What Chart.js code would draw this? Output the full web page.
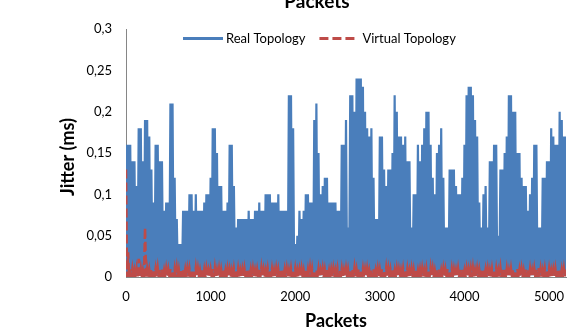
<!DOCTYPE html>
<html>
<head>
<meta charset="utf-8">
<script src="https://cdn.jsdelivr.net/npm/chart.js@4/dist/chart.umd.min.js"></script>
<style>
  html, body { margin: 0; padding: 0; background: #fff; overflow: hidden; }
  canvas { display: block; }
</style>
</head>
<body>
<canvas id="chart" width="578" height="331"></canvas>
<script>
// jitter per block of 25 packets (peak value seen in each block)
const blockSize = 25;

const realPeaks = [
    0.16, 0.16, 0.16, 0.14, 0.14, 0.11, 0.18, 0.18, 0.14, 0.19,
    0.19, 0.17, 0.13, 0.09, 0.16, 0.16, 0.14, 0.14, 0.08, 0.09,
    0.09, 0.21, 0.21, 0.12, 0.07, 0.04, 0.04, 0.08, 0.08, 0.08,
    0.10, 0.10, 0.08, 0.10, 0.08, 0.08, 0.08, 0.09, 0.10, 0.10,
    0.12, 0.18, 0.18, 0.15, 0.11, 0.11, 0.08, 0.08, 0.09, 0.16,
    0.16, 0.11, 0.06, 0.07, 0.07, 0.07, 0.07, 0.07, 0.08, 0.07,
    0.07, 0.08, 0.08, 0.09, 0.08, 0.08, 0.10, 0.10, 0.10, 0.09,
    0.09, 0.09, 0.10, 0.08, 0.08, 0.08, 0.08, 0.22, 0.22, 0.18,
    0.04, 0.05, 0.08, 0.07, 0.08, 0.10, 0.10, 0.09, 0.09, 0.19,
    0.21, 0.15, 0.10, 0.11, 0.12, 0.12, 0.09, 0.09, 0.09, 0.09,
    0.08, 0.08, 0.16, 0.16, 0.19, 0.06, 0.22, 0.22, 0.20, 0.24,
    0.24, 0.24, 0.23, 0.20, 0.18, 0.17, 0.18, 0.12, 0.07, 0.07,
    0.17, 0.17, 0.13, 0.11, 0.13, 0.13, 0.15, 0.22, 0.20, 0.17,
    0.17, 0.16, 0.17, 0.14, 0.14, 0.06, 0.10, 0.10, 0.16, 0.14,
    0.16, 0.18, 0.20, 0.20, 0.16, 0.12, 0.10, 0.15, 0.16, 0.18,
    0.12, 0.06, 0.06, 0.13, 0.13, 0.13, 0.11, 0.10, 0.10, 0.12,
    0.16, 0.22, 0.23, 0.23, 0.22, 0.19, 0.17, 0.09, 0.06, 0.10,
    0.11, 0.06, 0.14, 0.14, 0.16, 0.16, 0.05, 0.13, 0.13, 0.15,
    0.17, 0.22, 0.22, 0.20, 0.20, 0.15, 0.15, 0.12, 0.11, 0.11,
    0.08, 0.10, 0.12, 0.16, 0.16, 0.06, 0.06, 0.12, 0.12, 0.14,
    0.14, 0.18, 0.17, 0.16, 0.16, 0.20, 0.19, 0.17, 0.17
];
const realFloor = 0.002;

const virtualPeaks = [
    0.13, 0.03, 0.01, 0.01, 0.008, 0.01, 0.022, 0.01, 0.008, 0.06,
    0.01, 0.009, 0.01, 0.008, 0.01, 0.011, 0.009, 0.01, 0.008, 0.01,
    0.009, 0.01, 0.008, 0.01, 0.011, 0.009, 0.008, 0.01, 0.009, 0.01,
    0.01, 0.008, 0.009, 0.011, 0.01, 0.008, 0.01, 0.009, 0.01, 0.008,
    0.009, 0.01, 0.011, 0.008, 0.01, 0.009, 0.01, 0.008, 0.01, 0.009,
    0.008, 0.01, 0.009, 0.01, 0.008, 0.009, 0.01, 0.008, 0.01, 0.009,
    0.01, 0.008, 0.009, 0.01, 0.011, 0.009, 0.008, 0.01, 0.009, 0.01,
    0.008, 0.01, 0.009, 0.008, 0.01, 0.009, 0.01, 0.008, 0.01, 0.009,
    0.01, 0.008, 0.009, 0.01, 0.008, 0.01, 0.009, 0.011, 0.01, 0.008,
    0.009, 0.01, 0.008, 0.01, 0.009, 0.01, 0.008, 0.009, 0.01, 0.008,
    0.01, 0.009, 0.01, 0.008, 0.01, 0.009, 0.008, 0.01, 0.011, 0.009,
    0.01, 0.008, 0.01, 0.009, 0.01, 0.008, 0.009, 0.01, 0.008, 0.01,
    0.009, 0.01, 0.008, 0.011, 0.01, 0.009, 0.01, 0.008, 0.01, 0.009,
    0.008, 0.01, 0.009, 0.01, 0.008, 0.01, 0.009, 0.01, 0.008, 0.009,
    0.01, 0.008, 0.01, 0.009, 0.011, 0.01, 0.008, 0.009, 0.01, 0.008,
    0.01, 0.009, 0.01, 0.008, 0.01, 0.009, 0.008, 0.01, 0.009, 0.01,
    0.008, 0.01, 0.009, 0.01, 0.011, 0.008, 0.01, 0.009, 0.01, 0.008,
    0.009, 0.01, 0.008, 0.01, 0.009, 0.01, 0.008, 0.011, 0.01, 0.009,
    0.01, 0.008, 0.01, 0.009, 0.008, 0.01, 0.009, 0.01, 0.008, 0.01,
    0.009, 0.01, 0.008, 0.01, 0.009, 0.011, 0.01, 0.008, 0.01, 0.009,
    0.01, 0.008, 0.009, 0.01, 0.008, 0.01, 0.009, 0.01, 0.009
];

const seriesNames = ["Real Topology", "Virtual Topology"];
const chartTitle = "Packets";
const xTitle = "Packets";
const yTitle = "Jitter (ms)";
const xTicks = [0, 1000, 2000, 3000, 4000, 5000];
const yTicks = [0, 0.05, 0.1, 0.15, 0.2, 0.25, 0.3];

// each block: its peak, then a drop to the low level before the next block
function toPoints(peaks, low) {
    let pts = [];
    peaks.forEach((v, i) => {
        pts.push({ x: i * blockSize, y: v });
        if (i < peaks.length - 1) pts.push({ x: i * blockSize + blockSize / 2, y: low });
    });
    return pts;
}

const blue = "#4a7ebb";
const red = "#be4b48";

// titles and the legend sit inside the plot, so they are drawn by hand
const chartText = {
    id: "chartText",
    afterDraw(chart) {
        let ctx = chart.ctx;
        let sets = chart.data.datasets;
        ctx.save();
        ctx.fillStyle = "#000";
        ctx.textAlign = "center";
        ctx.textBaseline = "alphabetic";
        ctx.font = "bold 19px Lato";
        ctx.fillText(chartTitle, 317, 8);
        ctx.font = "bold 18px Lato";
        ctx.fillText(xTitle, 336, 327);

        ctx.save();
        ctx.translate(68, 157);
        ctx.rotate(-Math.PI / 2);
        ctx.textBaseline = "middle";
        ctx.fillText(yTitle, 0, 0);
        ctx.restore();

        // legend
        ctx.font = "13px Lato";
        ctx.textAlign = "left";
        ctx.textBaseline = "middle";
        let x = 183, y = 38.5;
        sets.forEach(ds => {
            ctx.beginPath();
            ctx.strokeStyle = ds.borderColor;
            ctx.lineWidth = 3;
            ctx.setLineDash(ds.borderDash || []);
            ctx.moveTo(x, y);
            ctx.lineTo(x + (ds.borderDash ? 35 : 40), y);
            ctx.stroke();
            ctx.setLineDash([]);
            ctx.fillText(ds.label, x + 43, y);
            x += 43 + ctx.measureText(ds.label).width + 14;
        });
        ctx.restore();
    }
};

new Chart(document.getElementById("chart"), {
    type: "line",
    data: {
        datasets: [{
            label: seriesNames[0],
            data: toPoints(realPeaks, realFloor),
            borderColor: blue,
            borderWidth: 2.2,
            pointRadius: 0,
            order: 2
        }, {
            label: seriesNames[1],
            data: toPoints(virtualPeaks, 0),
            borderColor: red,
            borderWidth: 2.5,
            borderDash: [9, 4],
            pointRadius: 0,
            order: 1
        }]
    },
    options: {
        responsive: false,
        animation: false,
        layout: { padding: { left: 0, right: 12, top: 29, bottom: 0 } },
        plugins: {
            legend: { display: false },
            tooltip: { enabled: false }
        },
        scales: {
            x: {
                type: "linear",
                min: 0,
                max: 5200,
                grid: { display: false, drawTicks: false },
                border: { color: "#868686" },
                afterBuildTicks: s => { s.ticks = xTicks.map(v => ({ value: v })); },
                afterFit: s => { s.height = 54; },
                ticks: {
                    padding: 12,
                    maxRotation: 0,
                    color: "#000",
                    font: { family: "Lato", size: 13 },
                    callback: v => String(v)
                }
            },
            y: {
                min: 0,
                max: 0.3,
                grid: { display: false, drawTicks: false },
                border: { color: "#868686" },
                afterBuildTicks: s => { s.ticks = yTicks.map(v => ({ value: v })); },
                afterFit: s => { s.width = 126; },
                ticks: {
                    padding: 14,
                    color: "#000",
                    font: { family: "Lato", size: 13 },
                    callback: v => String(v).replace(".", ",")
                }
            }
        }
    },
    plugins: [chartText]
});
</script>
</body>
</html>
